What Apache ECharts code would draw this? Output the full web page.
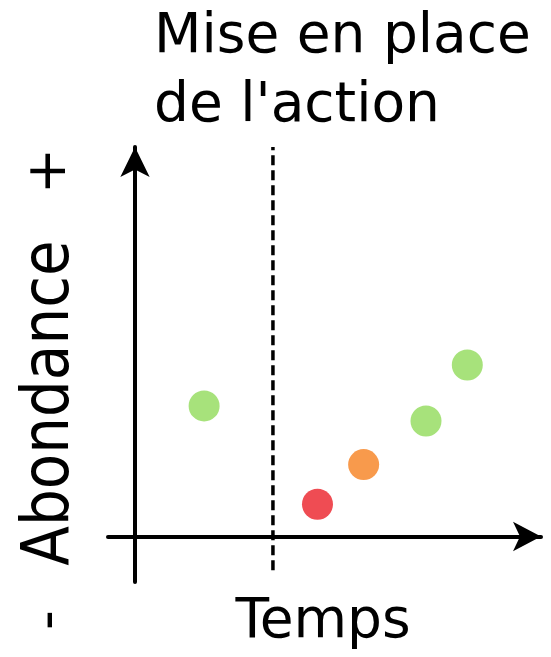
<!DOCTYPE html>
<html>
<head>
<meta charset="utf-8">
<script src="https://cdn.jsdelivr.net/npm/echarts@6/dist/echarts.min.js"></script>
<style>
  html, body { margin: 0; padding: 0; background: #fff; }
  #chart { width: 551px; height: 657px; }
</style>
</head>
<body>
<div id="chart"></div>
<script>
// schematic: abundance over time, before / after the action
var temps = [2.56, 6.76, 8.47, 10.78, 12.31];
var abondance = [2.87, 0.71, 1.58, 2.54, 3.77];
var etat = ['bon', 'mauvais', 'moyen', 'bon', 'bon'];
var actionTemps = 5.11;
var actionBas = -0.74;
var actionHaut = 8.56;

var couleurs = { bon: '#a7e27b', moyen: '#f89a4c', mauvais: '#ef4c53' };
var font = 'DejaVu Sans';

var chart = echarts.init(document.getElementById('chart'));

var points = temps.map(function (t, i) {
  return { value: [t, abondance[i]], itemStyle: { color: couleurs[etat[i]], opacity: 1 } };
});

var option = {
  animation: false,
  backgroundColor: '#fff',
  title: {
    text: "Mise en place\nde l'action",
    left: 149,
    top: -2,
    textStyle: { fontFamily: font, fontSize: 55, fontWeight: 'normal', color: '#000', lineHeight: 69 }
  },
  grid: { left: 108, right: 10, top: 147, bottom: 75 },
  xAxis: {
    type: 'value', min: -1, max: 15.04,
    axisLine: {
      onZero: true,
      symbol: ['none', 'arrow'], symbolSize: [22, 28], symbolOffset: [0, 0],
      lineStyle: { color: '#000', width: 4 }
    },
    axisTick: { show: false }, axisLabel: { show: false }, splitLine: { show: false }
  },
  yAxis: {
    type: 'value', min: -1, max: 8.56,
    axisLine: {
      onZero: true,
      symbol: ['none', 'arrow'], symbolSize: [22, 30], symbolOffset: [0, 0],
      lineStyle: { color: '#000', width: 4 }
    },
    axisTick: { show: false }, axisLabel: { show: false }, splitLine: { show: false }
  },
  graphic: [
    { type: 'text', x: 323, y: 623, style: { text: 'Temps', font: '55px "DejaVu Sans"', fill: '#000', align: 'center', verticalAlign: 'middle' } },
    { type: 'text', x: 51, y: 403, rotation: Math.PI / 2, scaleY: 1.12, style: { text: 'Abondance', font: '58px "DejaVu Sans"', fill: '#000', align: 'center', verticalAlign: 'middle' } },
    { type: 'text', x: 51, y: 171, rotation: Math.PI / 2, style: { text: '+', font: '55px "DejaVu Sans"', fill: '#000', align: 'center', verticalAlign: 'middle' } },
    { type: 'text', x: 51, y: 620, rotation: Math.PI / 2, style: { text: '-', font: '55px "DejaVu Sans"', fill: '#000', align: 'center', verticalAlign: 'middle' } }
  ],
  series: [
    {
      type: 'line',
      data: [[actionTemps, actionBas], [actionTemps, actionHaut]],
      symbol: 'none',
      clip: false,
      lineStyle: { color: '#000', width: 3.5, type: [10, 5] },
      z: 1
    },
    {
      type: 'scatter',
      data: points,
      symbolSize: 31,
      z: 3
    }
  ]
};

chart.setOption(option);
</script>
</body>
</html>
